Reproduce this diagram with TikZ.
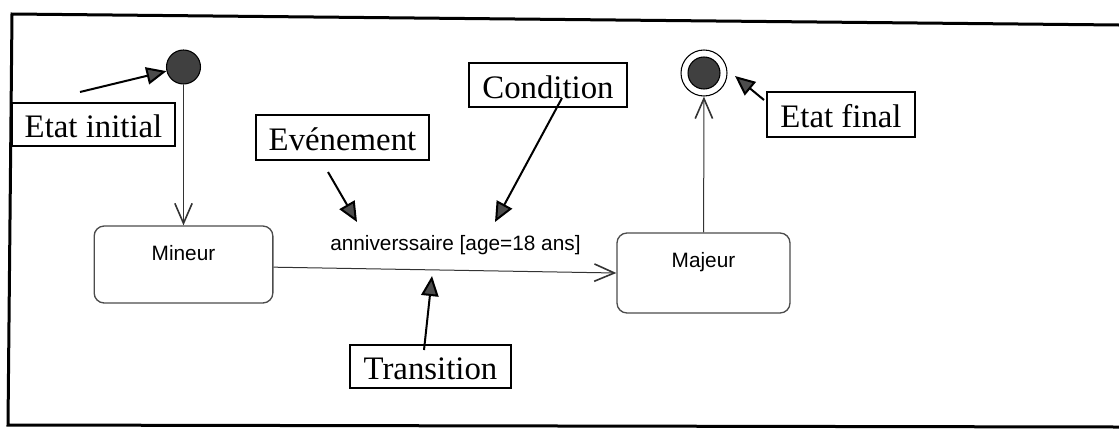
\documentclass[tikz,border=0pt]{standalone}
\usepackage{fontspec}
\setmainfont{Liberation Serif}
\setsansfont{Liberation Sans}
\usepackage{tikz}
\usetikzlibrary{arrows.meta}
\tikzset{
etat/.style={draw=black!70, line width=1pt, rounded corners=7.5pt},
stxt/.style={font=\fontsize{15.6}{18}\sffamily},
note/.style={draw, line width=1.4pt, inner sep=0pt, text height=19.5pt, text depth=0pt, font=\fontsize{24.6}{28}\selectfont},
puce/.style={circle, draw, line width=0.8pt, fill=black!75, inner sep=0pt},
trans/.style={draw=black!80, line width=0.75pt, -{Straight Barb[length=15pt, width=13pt, line width=1.2pt]}},
pointer/.style={line width=1.5pt, -{Triangle[length=15pt, width=13pt, fill=black!70]}}
}

\begin{document}
\begin{tikzpicture}[x=0.75pt, y=-0.75pt]
\useasboundingbox (0, 0) rectangle (1119, 429);
\draw[line width=2.25pt] (1119, 25) -- (12, 14) -- (8, 425) -- (1119, 427);

\node[puce, minimum size=25.5pt] at (183.5, 67) (debut) {};
\node[circle, draw, line width=0.8pt, inner sep=0pt, minimum size=34.5pt] at (704, 73) (fin) {};
\node[puce, minimum size=24pt] at (fin) (finDot) {};

\node[etat, minimum width=134pt, minimum height=57.75pt] at (183.5, 264.5) (mineur) {};
\node[stxt] at ([yshift=8.5pt]mineur.center) (mineurTxt) {Mineur};
\node[etat, minimum width=129.75pt, minimum height=60pt] at (703.5, 273) (majeur) {};
\node[stxt] at ([yshift=8.25pt]majeur.center) (majeurTxt) {Majeur};
\node[stxt, anchor=base west, inner sep=0pt] at (330, 250) (evt) {anniverssaire [age=18 ans]};

\draw[trans] (debut) -- (mineur);
\draw[trans] ([yshift=-2pt]mineur.east) -- (majeur.west);
\draw[trans] (majeur) -- (fin);

\node[note, minimum width=122pt, minimum height=32pt] at (93.5, 124.5) (nInit) {Etat initial};
\node[note, minimum width=129.75pt, minimum height=33.75pt] at (342.5, 137.5) (nEv) {Evénement};
\node[note, minimum width=118.5pt, minimum height=33pt] at (548, 85) (nCond) {Condition};
\node[note, minimum width=111pt, minimum height=33.75pt] at (841, 114.5) (nFin) {Etat final};
\node[note, minimum width=120.75pt, minimum height=32.25pt] at (430.5, 366.5) (nTrans) {Transition};

\coordinate (pInit) at (80, 92);
\coordinate (pEvA) at (328, 172);
\coordinate (pEvB) at (357, 222);
\coordinate (pCondA) at (562, 98);
\coordinate (pCondB) at (495, 222);
\coordinate (pTransA) at (424, 350);
\coordinate (pTransB) at (432, 276);
\coordinate (pFinA) at (764, 100);
\coordinate (pFinB) at (735, 76);
\draw[pointer] (pInit) -- (debut);
\draw[pointer] (pEvA) -- (pEvB);
\draw[pointer] (pCondA) -- (pCondB);
\draw[pointer] (pTransA) -- (pTransB);
\draw[pointer] (pFinA) -- (pFinB);
\end{tikzpicture}
\end{document}
